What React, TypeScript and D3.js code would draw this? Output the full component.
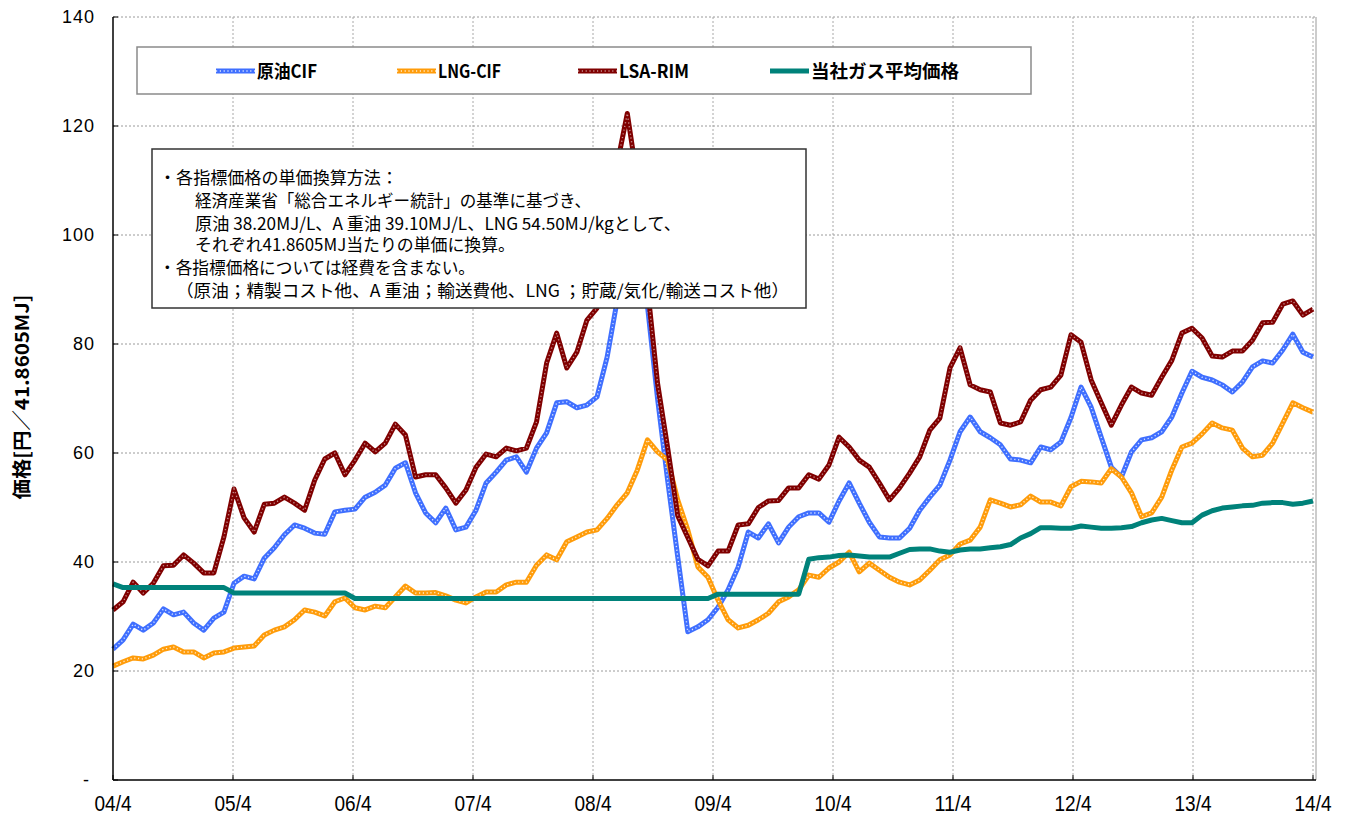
import React from "react";
import * as d3 from "d3";

// monthly values, 04/4 .. 14/3 (円/41.8605MJ)
const crudeCif = [
  24, 25.7, 28.6, 27.5, 28.8, 31.4, 30.3, 30.8, 28.8, 27.5, 29.7, 30.8,
  36.1, 37.4, 36.9, 40.7, 42.6, 45, 46.8, 46.2, 45.3, 45.1, 49.2, 49.5,
  49.7, 51.9, 52.8, 54.1, 57.2, 58.2, 52.7, 49, 47.2, 49.9, 45.9, 46.4,
  49.5, 54.5, 56.5, 58.7, 59.3, 56.5, 60.9, 63.7, 69.2, 69.4, 68.3, 68.8,
  70.3, 77.6, 88, 105, 100, 87, 70, 55, 41, 27.2, 28.1, 29.4,
  31.7, 34.9, 39.1, 45.5, 44.4, 47, 43.5, 46.4, 48.3, 49, 49, 47.3,
  51.2, 54.5, 50.8, 47.3, 44.6, 44.4, 44.4, 46.2, 49.5, 51.9, 54.1, 58.7,
  63.9, 66.6, 63.9, 62.8, 61.5, 58.9, 58.7, 58.2, 61.1, 60.6, 62, 66.5,
  72.1, 68.4, 62.9, 57.4, 55.6, 60.2, 62.4, 62.8, 63.9, 66.6, 71, 75,
  73.9, 73.4, 72.5, 71.2, 73, 75.8, 76.9, 76.5, 78.9, 81.8, 78.5, 77.6,
];

const lngCif = [
  20.9, 21.7, 22.4, 22.2, 22.9, 24, 24.4, 23.5, 23.5, 22.4, 23.3, 23.5,
  24.2, 24.4, 24.6, 26.6, 27.5, 28.1, 29.4, 31.2, 30.8, 30.1, 32.7, 33.4,
  31.6, 31.2, 31.9, 31.6, 33.6, 35.6, 34.3, 34.3, 34.4, 33.8, 33, 32.5,
  33.6, 34.5, 34.5, 35.8, 36.3, 36.3, 39.4, 41.3, 40.4, 43.7, 44.6, 45.5,
  45.9, 48, 50.5, 52.7, 56.9, 62.4, 60.2, 58.7, 51.4, 45.9, 39.1, 37.2,
  33, 29.4, 27.9, 28.4, 29.4, 30.6, 32.7, 33.6, 34.9, 37.6, 37.2, 38.9,
  40, 41.8, 38.2, 39.8, 38.5, 37.2, 36.3, 35.8, 36.7, 38.5, 40.4, 41.3,
  43.3, 44, 46.4, 51.4, 50.8, 50.1, 50.5, 52.1, 51, 51, 50.3, 53.8,
  54.8, 54.7, 54.5, 57.1, 55.6, 52.7, 48.3, 49, 51.9, 56.9, 61.1, 61.8,
  63.5, 65.5, 64.6, 64.2, 60.9, 59.3, 59.6, 61.8, 65.5, 69.2, 68.3, 67.5,
];

const lsaRim = [
  31.2, 32.7, 36.3, 34.3, 36.1, 39.3, 39.4, 41.3, 39.8, 38, 38, 44.6,
  53.4, 48.1, 45.5, 50.6, 50.8, 51.9, 50.8, 49.5, 55, 58.9, 60, 56,
  58.7, 61.8, 60.2, 61.8, 65.3, 63.3, 55.6, 56, 56, 53.6, 50.8, 53.2,
  57.4, 59.8, 59.3, 60.9, 60.4, 60.9, 65.7, 76.5, 82, 75.6, 78.5, 84.4,
  86.6, 100, 113, 122.3, 110, 90.5, 72.8, 61, 48.5, 44.5, 40.5, 39.3,
  42, 42, 46.8, 47, 50, 51.2, 51.3, 53.6, 53.6, 56, 55.2, 57.8,
  62.9, 61.1, 58.7, 57.4, 54.5, 51.4, 53.6, 56.3, 59.3, 64.2, 66.4, 75.6,
  79.3, 72.5, 71.6, 71.2, 65.5, 65.1, 65.7, 69.7, 71.6, 72.1, 74.3, 81.7,
  80.3, 73.4, 69.2, 65.1, 68.8, 72.1, 71, 70.6, 73.9, 77, 82, 82.9,
  81.1, 77.8, 77.6, 78.7, 78.7, 80.7, 83.9, 84, 87.3, 87.9, 85.3, 86.4,
];

const gasAverage = [
  36, 35.3, 35.3, 35.3, 35.3, 35.3, 35.3, 35.3, 35.3, 35.3, 35.3, 35.3,
  34.3, 34.3, 34.3, 34.3, 34.3, 34.3, 34.3, 34.3, 34.3, 34.3, 34.3, 34.3,
  33.3, 33.3, 33.3, 33.3, 33.3, 33.3, 33.3, 33.3, 33.3, 33.3, 33.3, 33.3,
  33.3, 33.3, 33.3, 33.3, 33.3, 33.3, 33.3, 33.3, 33.3, 33.3, 33.3, 33.3,
  33.3, 33.3, 33.3, 33.3, 33.3, 33.3, 33.3, 33.3, 33.3, 33.3, 33.3, 33.3,
  34.1, 34.1, 34.1, 34.1, 34.1, 34.1, 34.1, 34.1, 34.1, 40.5, 40.8, 40.9,
  41.2, 41.3, 41.1, 40.9, 40.9, 40.9, 41.6, 42.3, 42.4, 42.4, 42, 41.8,
  42.2, 42.4, 42.4, 42.6, 42.8, 43.2, 44.4, 45.2, 46.3, 46.3, 46.2, 46.2,
  46.6, 46.4, 46.2, 46.2, 46.3, 46.5, 47.2, 47.7, 48, 47.6, 47.2, 47.2,
  48.6, 49.4, 49.9, 50.1, 50.3, 50.4, 50.8, 50.9, 50.9, 50.6, 50.8, 51.2,
];

const yearLabels = ["04/4", "05/4", "06/4", "07/4", "08/4", "09/4", "10/4", "11/4", "12/4", "13/4", "14/4"];
const yTicks = [0, 20, 40, 60, 80, 100, 120, 140];

const seriesNames = ["原油CIF", "LNG-CIF", "LSA-RIM", "当社ガス平均価格"];
const seriesColors = ["#3f6fff", "#ff9c0a", "#800000", "#00827a"];

const noteLines = [
  "・各指標価格の単価換算方法：",
  "経済産業省「総合エネルギー統計」の基準に基づき、",
  "原油 38.20MJ/L、A 重油 39.10MJ/L、LNG 54.50MJ/kgとして、",
  "それぞれ41.8605MJ当たりの単価に換算。",
  "・各指標価格については経費を含まない。",
  "（原油；精製コスト他、A 重油；輸送費他、LNG ；貯蔵/気化/輸送コスト他）",
];

const JP = "'Noto Sans CJK JP', sans-serif";
const NUM = "'Liberation Sans', Arial, sans-serif";

export default function App() {
  const W = 1356;
  const H = 816;
  const left = 113;
  const right = 1313;
  const top = 17;
  const bottom = 780;

  const x = d3.scaleLinear().domain([0, crudeCif.length - 1]).range([left, right]);
  const xYear = d3.scalePoint<string>().domain(yearLabels).range([left, right]);
  const y = d3.scaleLinear().domain([0, 140]).range([bottom, top]);

  const line = d3
    .line<number>()
    .x((_, i) => x(i))
    .y((d) => y(d));

  const series = [crudeCif, lngCif, lsaRim, gasAverage];

  // legend layout
  const legendX = [216, 397, 578, 770];
  const legendTextW = [60, 63, 70, 148];
  const legendY = 71;

  // note box text layout (start x, baseline, width)
  const noteX = [159, 195, 195, 195, 159, 176];
  const noteBase = [184, 207, 230, 251, 274, 297];
  const noteW = [239, 396, 486, 320, 316, 613];

  return (
    <div style={{ position: "fixed", left: 0, top: 0 }}>
      <svg width={W} height={H} style={{ display: "block", background: "#fff" }}>
        {/* grid */}
        {yTicks.slice(1).map((t) => (
          <line
            key={"gy" + t}
            x1={left}
            x2={1316}
            y1={y(t)}
            y2={y(t)}
            stroke="#9a9a9a"
            strokeWidth={1}
            strokeDasharray="2 2"
          />
        ))}
        {yearLabels.slice(1).map((l) => (
          <line
            key={"gx" + l}
            x1={xYear(l)}
            x2={xYear(l)}
            y1={top}
            y2={bottom}
            stroke="#a8a8a8"
            strokeWidth={1}
            strokeDasharray="2 2"
          />
        ))}
        <line x1={1316} x2={1316} y1={top} y2={bottom} stroke="#9a9a9a" strokeWidth={1} />

        {/* series */}
        {series.map((s, k) => (
          <g key={"s" + k}>
            <path d={line(s) || ""} fill="none" stroke={seriesColors[k]} strokeWidth={5} strokeLinejoin="round" />
            {k < 3 && (
              <path
                d={line(s) || ""}
                fill="none"
                stroke="#fff"
                strokeOpacity={k === 2 ? 0.55 : 0.8}
                strokeWidth={1.4}
                strokeDasharray="1.2 2.6"
              />
            )}
          </g>
        ))}

        {/* axes */}
        <line x1={left} x2={left} y1={top} y2={bottom} stroke="#000" strokeWidth={1.5} />
        <line x1={left} x2={1316} y1={bottom} y2={bottom} stroke="#000" strokeWidth={1.5} />
        {yTicks.map((t) => (
          <g key={"yt" + t}>
            <line x1={left} x2={left + 5} y1={y(t)} y2={y(t)} stroke="#000" strokeWidth={1} />
            <text
              x={t === 0 ? 90 : 95}
              y={y(t) + 6}
              textAnchor="end"
              fontFamily={NUM}
              fontSize={18}
              letterSpacing={1}
              fill="#000"
            >
              {t === 0 ? "-" : t}
            </text>
          </g>
        ))}
        {yearLabels.map((l) => (
          <g key={"xt" + l}>
            <line x1={xYear(l)} x2={xYear(l)} y1={bottom} y2={bottom - 5} stroke="#000" strokeWidth={1} />
            <text
              x={xYear(l)}
              y={811}
              textAnchor="middle"
              fontFamily={NUM}
              fontSize={22}
              textLength={37}
              lengthAdjust="spacingAndGlyphs"
              fill="#000"
            >
              {l}
            </text>
          </g>
        ))}
        <text
          transform="translate(29,397) rotate(-90)"
          textAnchor="middle"
          fontFamily={JP}
          fontWeight="bold"
          fontSize={19}
          textLength={205}
          lengthAdjust="spacingAndGlyphs"
          fill="#000"
        >
          価格[円／41.8605MJ]
        </text>

        {/* legend */}
        <rect x={137} y={47} width={894} height={47} fill="#fff" stroke="#8a8a8a" strokeWidth={1.5} />
        {seriesNames.map((n, k) => (
          <g key={"lg" + k}>
            <line
              x1={legendX[k]}
              x2={legendX[k] + 39}
              y1={legendY}
              y2={legendY}
              stroke={seriesColors[k]}
              strokeWidth={5}
            />
            {k < 3 && (
              <line
                x1={legendX[k]}
                x2={legendX[k] + 39}
                y1={legendY}
                y2={legendY}
                stroke="#fff"
                strokeOpacity={k === 2 ? 0.55 : 0.8}
                strokeWidth={1.4}
                strokeDasharray="1.2 2.6"
              />
            )}
            <text
              x={legendX[k] + 41}
              y={legendY + 7}
              fontFamily={JP}
              fontWeight="bold"
              fontSize={18}
              textLength={legendTextW[k]}
              lengthAdjust="spacingAndGlyphs"
              fill="#000"
            >
              {n}
            </text>
          </g>
        ))}

        {/* note box */}
        <rect x={152} y={149} width={654} height={159} fill="#fff" stroke="#333" strokeWidth={1.5} />
        {noteLines.map((t, i) => (
          <text
            key={"n" + i}
            x={noteX[i]}
            y={noteBase[i]}
            fontFamily={JP}
            fontSize={17}
            textLength={noteW[i]}
            lengthAdjust="spacingAndGlyphs"
            fill="#000"
          >
            {t}
          </text>
        ))}
      </svg>
    </div>
  );
}
